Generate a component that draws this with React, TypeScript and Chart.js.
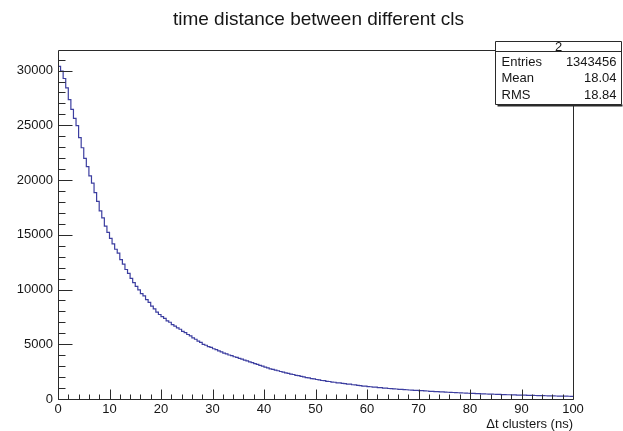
import React, { useEffect, useRef } from 'react';
import { Chart, registerables } from 'chart.js';

Chart.register(...registerables);

const TITLE = 'time distance between different cls';
const X_TITLE = 'Δt clusters (ns)';
const X_MIN = 0;
const X_MAX = 100;
const BIN_WIDTH = 0.5;
const Y_MIN = 0;
const Y_MAX = 31900;
const X_TICKS = [0, 10, 20, 30, 40, 50, 60, 70, 80, 90, 100];
const Y_TICKS = [0, 5000, 10000, 15000, 20000, 25000, 30000];
const X_MINOR_STEP = 2;
const Y_MINOR_STEP = 1000;

// bin contents, 200 bins of 0.5 ns from 0 to 100 ns
const COUNTS = [
  30380, 29950, 29280, 28420, 27350, 26450, 25640, 24980, 23870, 22950,
  21980, 21230, 20380, 19720, 18860, 18050, 17180, 16540, 15790, 15230,
  14680, 14170, 13680, 13330, 12730, 12320, 11830, 11480, 11020, 10630,
  10280, 9970, 9630, 9420, 9080, 8820, 8480, 8230, 7930, 7720,
  7530, 7370, 7130, 7010, 6790, 6660, 6490, 6370, 6180, 6060,
  5890, 5770, 5590, 5460, 5290, 5170, 4990, 4910, 4790, 4710,
  4590, 4510, 4390, 4310, 4190, 4130, 4020, 3960, 3860, 3810,
  3710, 3650, 3550, 3490, 3390, 3330, 3230, 3170, 3070, 3000,
  2910, 2850, 2760, 2710, 2630, 2580, 2510, 2460, 2390, 2340,
  2270, 2240, 2160, 2130, 2060, 2030, 1960, 1930, 1860, 1830,
  1780, 1750, 1690, 1670, 1610, 1600, 1550, 1530, 1480, 1470,
  1420, 1410, 1360, 1350, 1300, 1290, 1240, 1230, 1180, 1170,
  1130, 1120, 1080, 1080, 1040, 1030, 1000, 995, 960, 955,
  920, 915, 885, 880, 850, 845, 820, 815, 790, 790,
  765, 760, 735, 730, 705, 700, 675, 670, 650, 645,
  620, 615, 600, 595, 575, 570, 555, 550, 535, 525,
  510, 505, 490, 485, 470, 468, 455, 450, 438, 434,
  420, 418, 405, 402, 390, 388, 376, 372, 362, 360,
  348, 346, 336, 332, 323, 320, 312, 308, 300, 297,
  290, 286, 279, 276, 269, 266, 259, 256, 250, 247,
];

const STATS_NAME = '2';
const STATS_LABELS = ['Entries', 'Mean', 'RMS'];
const STATS_VALUES = ['1343456', '18.04', '18.84'];

const FONT_FAMILY = '"Liberation Sans", Arial, Helvetica, sans-serif';
const TEXT_COLOR = '#161616';
const FRAME_COLOR = '#2a2a2a';
const LINE_COLOR = '#3c3ea0';

const rootFramePlugin = {
  id: 'rootFrame',
  afterDraw(chart: any) {
    const { ctx, chartArea: a, scales } = chart;
    const xs = scales.x;
    const ys = scales.y;
    ctx.save();
    ctx.strokeStyle = FRAME_COLOR;
    ctx.lineWidth = 1;
    const L = Math.round(a.left) + 0.5;
    const T = Math.round(a.top) + 0.5;
    const R = Math.round(a.right) + 0.5;
    const B = Math.round(a.bottom) + 0.5;
    ctx.beginPath();
    ctx.rect(L, T, R - L, B - T);
    ctx.stroke();

    ctx.beginPath();
    for (let v = X_MIN; v <= X_MAX + 1e-9; v += X_MINOR_STEP) {
      const px = Math.round(xs.getPixelForValue(v)) + 0.5;
      const len = X_TICKS.includes(v) ? 10 : 5;
      ctx.moveTo(px, B);
      ctx.lineTo(px, B - len);
    }
    for (let v = Y_MIN; v <= Y_MAX + 1e-9; v += Y_MINOR_STEP) {
      const py = Math.round(ys.getPixelForValue(v)) + 0.5;
      const len = Y_TICKS.includes(v) ? 14 : 7;
      ctx.moveTo(L, py);
      ctx.lineTo(L + len, py);
    }
    ctx.stroke();

    // statistics box
    const bx = 495.5, by = 41.5, bw = 126, bh = 63;
    ctx.fillStyle = '#ffffff';
    ctx.fillRect(bx, by, bw, bh);
    ctx.strokeStyle = FRAME_COLOR;
    ctx.beginPath();
    ctx.rect(bx, by, bw, bh);
    ctx.moveTo(bx, by + 10);
    ctx.lineTo(bx + bw, by + 10);
    ctx.stroke();
    ctx.lineWidth = 2;
    ctx.beginPath();
    ctx.moveTo(bx + 2, by + bh + 1);
    ctx.lineTo(bx + bw + 1, by + bh + 1);
    ctx.stroke();

    ctx.fillStyle = TEXT_COLOR;
    ctx.font = `13px ${FONT_FAMILY}`;
    ctx.textBaseline = 'middle';
    ctx.textAlign = 'center';
    ctx.fillText(STATS_NAME, bx + bw / 2, by + 5.5);
    STATS_LABELS.forEach((lab, i) => {
      const ty = by + 20.5 + i * 16.8;
      ctx.textAlign = 'left';
      ctx.fillText(lab, bx + 6, ty);
      ctx.textAlign = 'right';
      ctx.fillText(STATS_VALUES[i], bx + bw - 5, ty);
    });
    ctx.restore();
  },
};

export default function App() {
  const canvasRef = useRef<HTMLCanvasElement | null>(null);

  useEffect(() => {
    const canvas = canvasRef.current;
    if (!canvas) return;
    const points = COUNTS.map((c, i) => ({ x: X_MIN + i * BIN_WIDTH, y: c }));
    points.push({ x: X_MAX, y: COUNTS[COUNTS.length - 1] });

    const font = { family: FONT_FAMILY, size: 13, weight: 'normal' as const };

    const chart = new Chart(canvas, {
      type: 'line',
      data: {
        datasets: [
          {
            data: points,
            stepped: 'before',
            borderColor: LINE_COLOR,
            borderWidth: 1.2,
            pointRadius: 0,
            fill: false,
            yAxisID: 'y',
            xAxisID: 'x',
          },
        ],
      },
      plugins: [rootFramePlugin],
      options: {
        animation: false,
        responsive: false,
        devicePixelRatio: 1,
        layout: { padding: { left: 14, right: 0, top: 0, bottom: 0 } },
        plugins: {
          legend: { display: false },
          tooltip: { enabled: false },
          title: {
            display: true,
            text: TITLE,
            color: TEXT_COLOR,
            font: { family: FONT_FAMILY, size: 19, weight: 'normal' },
            padding: { top: 8, bottom: 19 },
          },
        },
        scales: {
          x: {
            type: 'linear',
            min: X_MIN,
            max: X_MAX,
            afterBuildTicks: (s: any) => {
              s.ticks = X_TICKS.map((v) => ({ value: v }));
            },
            afterFit: (s: any) => {
              s.height = 32;
            },
            ticks: {
              font,
              color: TEXT_COLOR,
              padding: 3,
              maxRotation: 0,
              autoSkip: false,
              callback: (v: any) => String(v),
            },
            grid: { display: false, drawTicks: false },
            border: { display: false },
            title: {
              display: true,
              text: X_TITLE,
              align: 'end',
              color: TEXT_COLOR,
              font,
              padding: { top: 0, bottom: -1 },
            },
          },
          y: {
            type: 'linear',
            min: Y_MIN,
            max: Y_MAX,
            afterBuildTicks: (s: any) => {
              s.ticks = Y_TICKS.map((v) => ({ value: v }));
            },
            afterFit: (s: any) => {
              s.width = 44;
            },
            ticks: {
              font,
              color: TEXT_COLOR,
              padding: 5,
              callback: (v: any) => String(v),
            },
            grid: { display: false, drawTicks: false },
            border: { display: false },
          },
          y2: {
            type: 'linear',
            position: 'right',
            display: true,
            min: 0,
            max: 1,
            afterFit: (s: any) => {
              s.width = 50;
            },
            ticks: { display: false },
            grid: { display: false, drawTicks: false },
            border: { display: false },
          },
        },
      } as any,
    });
    return () => chart.destroy();
  }, []);

  return (
    <div style={{ position: 'fixed', left: 0, top: 0, width: 623, height: 431, background: '#fff' }}>
      <canvas ref={canvasRef} width={623} height={431} style={{ display: 'block', width: 623, height: 431 }} />
    </div>
  );
}
